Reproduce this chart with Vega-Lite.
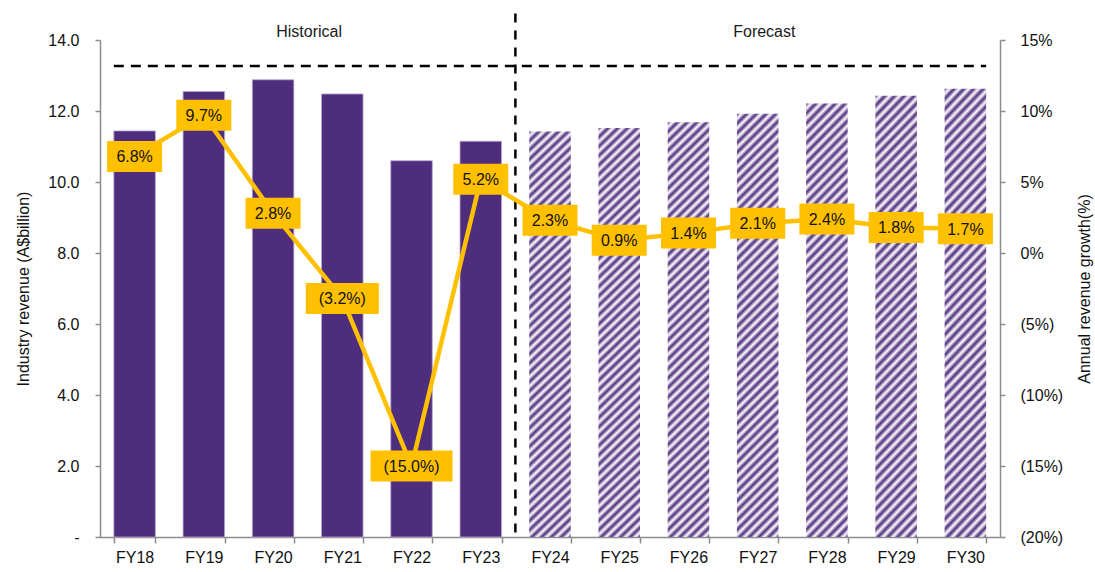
{
  "$schema": "https://vega.github.io/schema/vega-lite/v6.json",
  "width": 900,
  "height": 497,
  "autosize": {"type": "none"},
  "padding": {"left": 100, "top": 40, "right": 95, "bottom": 35},
  "background": "white",
  "config": {
    "view": {"stroke": null},
    "font": "Liberation Sans",
    "axis": {
      "grid": false,
      "domainColor": "#8C8C8C",
      "domainWidth": 1.5,
      "tickColor": "#8C8C8C",
      "tickWidth": 1.5,
      "labelColor": "#111111",
      "labelFont": "Liberation Sans",
      "labelFontSize": 16,
      "titleFont": "Liberation Sans",
      "titleFontSize": 16,
      "titleFontWeight": "normal",
      "titleColor": "#111111"
    }
  },
  "data": {
    "values": [
      {"fy": "FY18", "revenue": 11.44, "growth": 6.8, "label": "6.8%", "period": "Historical"},
      {"fy": "FY19", "revenue": 12.55, "growth": 9.7, "label": "9.7%", "period": "Historical"},
      {"fy": "FY20", "revenue": 12.88, "growth": 2.8, "label": "2.8%", "period": "Historical"},
      {"fy": "FY21", "revenue": 12.48, "growth": -3.2, "label": "(3.2%)", "period": "Historical"},
      {"fy": "FY22", "revenue": 10.6, "growth": -15.0, "label": "(15.0%)", "period": "Historical"},
      {"fy": "FY23", "revenue": 11.15, "growth": 5.2, "label": "5.2%", "period": "Historical"},
      {"fy": "FY24", "revenue": 11.42, "growth": 2.3, "label": "2.3%", "period": "Forecast"},
      {"fy": "FY25", "revenue": 11.52, "growth": 0.9, "label": "0.9%", "period": "Forecast"},
      {"fy": "FY26", "revenue": 11.68, "growth": 1.4, "label": "1.4%", "period": "Forecast"},
      {"fy": "FY27", "revenue": 11.92, "growth": 2.1, "label": "2.1%", "period": "Forecast"},
      {"fy": "FY28", "revenue": 12.21, "growth": 2.4, "label": "2.4%", "period": "Forecast"},
      {"fy": "FY29", "revenue": 12.43, "growth": 1.8, "label": "1.8%", "period": "Forecast"},
      {"fy": "FY30", "revenue": 12.63, "growth": 1.7, "label": "1.7%", "period": "Forecast"}
    ]
  },
  "encoding": {
    "x": {
      "field": "fy",
      "type": "nominal",
      "scale": {"paddingInner": 0.4, "paddingOuter": 0.2},
      "axis": {
        "title": null,
        "labelAngle": 0,
        "tickBand": "extent",
        "tickSize": 6,
        "labelPadding": 6
      }
    }
  },
  "layer": [
    {
      "layer": [
        {
          "transform": [{"filter": "datum.period === 'Historical'"}],
          "mark": {"type": "bar", "fill": "#4F2D7D", "stroke": "#B9A9D4", "strokeWidth": 0.8},
          "encoding": {
            "y": {
              "field": "revenue",
              "type": "quantitative",
              "scale": {"domain": [0, 14], "nice": false, "zero": true},
              "axis": {
                "orient": "left",
                "title": "Industry revenue (A$billion)",
                "values": [0, 2, 4, 6, 8, 10, 12, 14],
                "labelExpr": "datum.value === 0 ? '-' : format(datum.value, '.1f')",
                "tickSize": 5,
                "labelPadding": 16,
                "titlePadding": 16
              }
            }
          }
        },
        {
          "transform": [{"filter": "datum.period === 'Forecast'"}],
          "mark": {
            "type": "bar",
            "fill": {
              "gradient": "linear",
              "x1": 0, "y1": 0, "x2": 0.1062, "y2": 1.0873,
              "stops": [
                {"offset": 0, "color": "#4F2D7D"}, {"offset": 0.0104167, "color": "#FFFFFF"},
                {"offset": 0.0208333, "color": "#4F2D7D"}, {"offset": 0.03125, "color": "#FFFFFF"},
                {"offset": 0.0416667, "color": "#4F2D7D"}, {"offset": 0.0520833, "color": "#FFFFFF"},
                {"offset": 0.0625, "color": "#4F2D7D"}, {"offset": 0.0729167, "color": "#FFFFFF"},
                {"offset": 0.0833333, "color": "#4F2D7D"}, {"offset": 0.09375, "color": "#FFFFFF"},
                {"offset": 0.1041667, "color": "#4F2D7D"}, {"offset": 0.1145833, "color": "#FFFFFF"},
                {"offset": 0.125, "color": "#4F2D7D"}, {"offset": 0.1354167, "color": "#FFFFFF"},
                {"offset": 0.1458333, "color": "#4F2D7D"}, {"offset": 0.15625, "color": "#FFFFFF"},
                {"offset": 0.1666667, "color": "#4F2D7D"}, {"offset": 0.1770833, "color": "#FFFFFF"},
                {"offset": 0.1875, "color": "#4F2D7D"}, {"offset": 0.1979167, "color": "#FFFFFF"},
                {"offset": 0.2083333, "color": "#4F2D7D"}, {"offset": 0.21875, "color": "#FFFFFF"},
                {"offset": 0.2291667, "color": "#4F2D7D"}, {"offset": 0.2395833, "color": "#FFFFFF"},
                {"offset": 0.25, "color": "#4F2D7D"}, {"offset": 0.2604167, "color": "#FFFFFF"},
                {"offset": 0.2708333, "color": "#4F2D7D"}, {"offset": 0.28125, "color": "#FFFFFF"},
                {"offset": 0.2916667, "color": "#4F2D7D"}, {"offset": 0.3020833, "color": "#FFFFFF"},
                {"offset": 0.3125, "color": "#4F2D7D"}, {"offset": 0.3229167, "color": "#FFFFFF"},
                {"offset": 0.3333333, "color": "#4F2D7D"}, {"offset": 0.34375, "color": "#FFFFFF"},
                {"offset": 0.3541667, "color": "#4F2D7D"}, {"offset": 0.3645833, "color": "#FFFFFF"},
                {"offset": 0.375, "color": "#4F2D7D"}, {"offset": 0.3854167, "color": "#FFFFFF"},
                {"offset": 0.3958333, "color": "#4F2D7D"}, {"offset": 0.40625, "color": "#FFFFFF"},
                {"offset": 0.4166667, "color": "#4F2D7D"}, {"offset": 0.4270833, "color": "#FFFFFF"},
                {"offset": 0.4375, "color": "#4F2D7D"}, {"offset": 0.4479167, "color": "#FFFFFF"},
                {"offset": 0.4583333, "color": "#4F2D7D"}, {"offset": 0.46875, "color": "#FFFFFF"},
                {"offset": 0.4791667, "color": "#4F2D7D"}, {"offset": 0.4895833, "color": "#FFFFFF"},
                {"offset": 0.5, "color": "#4F2D7D"}, {"offset": 0.5104167, "color": "#FFFFFF"},
                {"offset": 0.5208333, "color": "#4F2D7D"}, {"offset": 0.53125, "color": "#FFFFFF"},
                {"offset": 0.5416667, "color": "#4F2D7D"}, {"offset": 0.5520833, "color": "#FFFFFF"},
                {"offset": 0.5625, "color": "#4F2D7D"}, {"offset": 0.5729167, "color": "#FFFFFF"},
                {"offset": 0.5833333, "color": "#4F2D7D"}, {"offset": 0.59375, "color": "#FFFFFF"},
                {"offset": 0.6041667, "color": "#4F2D7D"}, {"offset": 0.6145833, "color": "#FFFFFF"},
                {"offset": 0.625, "color": "#4F2D7D"}, {"offset": 0.6354167, "color": "#FFFFFF"},
                {"offset": 0.6458333, "color": "#4F2D7D"}, {"offset": 0.65625, "color": "#FFFFFF"},
                {"offset": 0.6666667, "color": "#4F2D7D"}, {"offset": 0.6770833, "color": "#FFFFFF"},
                {"offset": 0.6875, "color": "#4F2D7D"}, {"offset": 0.6979167, "color": "#FFFFFF"},
                {"offset": 0.7083333, "color": "#4F2D7D"}, {"offset": 0.71875, "color": "#FFFFFF"},
                {"offset": 0.7291667, "color": "#4F2D7D"}, {"offset": 0.7395833, "color": "#FFFFFF"},
                {"offset": 0.75, "color": "#4F2D7D"}, {"offset": 0.7604167, "color": "#FFFFFF"},
                {"offset": 0.7708333, "color": "#4F2D7D"}, {"offset": 0.78125, "color": "#FFFFFF"},
                {"offset": 0.7916667, "color": "#4F2D7D"}, {"offset": 0.8020833, "color": "#FFFFFF"},
                {"offset": 0.8125, "color": "#4F2D7D"}, {"offset": 0.8229167, "color": "#FFFFFF"},
                {"offset": 0.8333333, "color": "#4F2D7D"}, {"offset": 0.84375, "color": "#FFFFFF"},
                {"offset": 0.8541667, "color": "#4F2D7D"}, {"offset": 0.8645833, "color": "#FFFFFF"},
                {"offset": 0.875, "color": "#4F2D7D"}, {"offset": 0.8854167, "color": "#FFFFFF"},
                {"offset": 0.8958333, "color": "#4F2D7D"}, {"offset": 0.90625, "color": "#FFFFFF"},
                {"offset": 0.9166667, "color": "#4F2D7D"}, {"offset": 0.9270833, "color": "#FFFFFF"},
                {"offset": 0.9375, "color": "#4F2D7D"}, {"offset": 0.9479167, "color": "#FFFFFF"},
                {"offset": 0.9583333, "color": "#4F2D7D"}, {"offset": 0.96875, "color": "#FFFFFF"},
                {"offset": 0.9791667, "color": "#4F2D7D"}, {"offset": 0.9895833, "color": "#FFFFFF"},
                {"offset": 1, "color": "#4F2D7D"}
              ]
            }
          },
          "encoding": {
            "y": {"field": "revenue", "type": "quantitative", "scale": {"domain": [0, 14], "nice": false}}
          }
        },
        {
          "data": {"values": [{"level": 13.27}]},
          "mark": {"type": "rule", "color": "#000000", "strokeWidth": 2.5, "strokeDash": [10, 7]},
          "encoding": {
            "x": {"datum": "FY18", "bandPosition": 0},
            "x2": {"datum": "FY30", "bandPosition": 1},
            "y": {"field": "level", "type": "quantitative", "scale": {"domain": [0, 14], "nice": false}}
          }
        },
        {
          "data": {"values": [{"boundary": "FY24", "top": 14.75, "bottom": 0}]},
          "mark": {"type": "rule", "color": "#000000", "strokeWidth": 2.5, "strokeDash": [9, 8]},
          "encoding": {
            "x": {"field": "boundary", "type": "nominal", "bandPosition": -0.3333},
            "y": {"field": "top", "type": "quantitative", "scale": {"domain": [0, 14], "nice": false}},
            "y2": {"field": "bottom"}
          }
        },
        {
          "data": {"values": [{"section": "Historical", "anchor": "FY21", "level": 14.22}]},
          "mark": {"type": "text", "fontSize": 16, "fontWeight": "normal", "color": "#1A1A1A", "baseline": "middle", "align": "center"},
          "encoding": {
            "x": {"field": "anchor", "type": "nominal", "bandPosition": -0.3},
            "y": {"field": "level", "type": "quantitative", "scale": {"domain": [0, 14], "nice": false}},
            "text": {"field": "section"}
          }
        },
        {
          "data": {"values": [{"section": "Forecast", "anchor": "FY27", "level": 14.22}]},
          "mark": {"type": "text", "fontSize": 16, "fontWeight": "normal", "color": "#1A1A1A", "baseline": "middle", "align": "center"},
          "encoding": {
            "x": {"field": "anchor", "type": "nominal", "bandPosition": 0.66},
            "y": {"field": "level", "type": "quantitative", "scale": {"domain": [0, 14], "nice": false}},
            "text": {"field": "section"}
          }
        }
      ]
    },
    {
      "encoding": {
        "x": {"field": "fy", "type": "nominal", "bandPosition": 0.5},
        "y": {
          "field": "growth",
          "type": "quantitative",
          "scale": {"domain": [-20, 15], "nice": false, "zero": false},
          "axis": {
            "orient": "right",
            "title": "Annual revenue growth(%)",
            "titleAngle": 270,
            "values": [-20, -15, -10, -5, 0, 5, 10, 15],
            "labelExpr": "datum.value < 0 ? '(' + format(-datum.value, 'd') + '%)' : format(datum.value, 'd') + '%'",
            "tickSize": 5,
            "labelPadding": 15,
            "titlePadding": 30
          }
        }
      },
      "layer": [
        {"mark": {"type": "line", "color": "#FFC000", "strokeWidth": 4.5}},
        {
          "mark": {"type": "point", "filled": true, "opacity": 1, "color": "#FFC000", "size": 10000, "strokeWidth": 0},
          "encoding": {
            "shape": {
              "condition": [
                {"test": "datum.growth < -10", "value": "M-0.82,-0.31L0.82,-0.31L0.82,0.31L-0.82,0.31Z"},
                {"test": "datum.growth < 0", "value": "M-0.73,-0.31L0.73,-0.31L0.73,0.31L-0.73,0.31Z"}
              ],
              "value": "M-0.55,-0.31L0.55,-0.31L0.55,0.31L-0.55,0.31Z"
            }
          }
        },
        {
          "mark": {"type": "text", "fontSize": 16, "fontWeight": "normal", "color": "#111111", "align": "center", "baseline": "middle", "dy": 1},
          "encoding": {"text": {"field": "label"}}
        }
      ]
    }
  ],
  "resolve": {"scale": {"y": "independent"}}
}
